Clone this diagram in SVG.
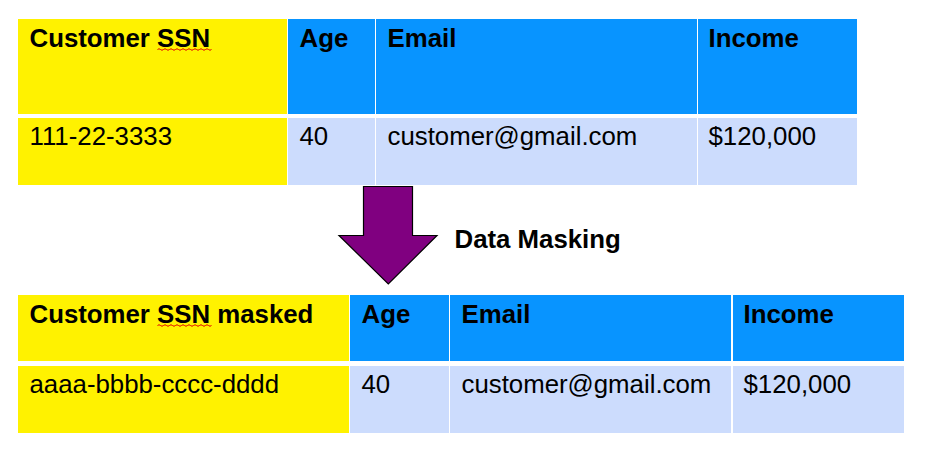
<svg xmlns="http://www.w3.org/2000/svg" width="936" height="463" viewBox="0 0 936 463">
<style>
.y{fill:#fff200}
.b{fill:#0894ff}
.l{fill:#ccdcfd}
.h{font-family:"Liberation Sans",Arial,sans-serif;font-size:25.8px;font-weight:bold;fill:#000}
.d{font-family:"Liberation Sans",Arial,sans-serif;font-size:25.8px;fill:#000}
.sq{fill:none;stroke:#e00000;stroke-width:1}
</style>
<rect width="936" height="463" fill="#fff"/>
<g id="table-original">
<rect class="y" x="18" y="19" width="269" height="95"/>
<rect class="b" x="288" y="19" width="87" height="95"/>
<rect class="b" x="376" y="19" width="321" height="95"/>
<rect class="b" x="698" y="19" width="159" height="95"/>
<rect class="y" x="18" y="118" width="269" height="67"/>
<rect class="l" x="288" y="118" width="87" height="67"/>
<rect class="l" x="376" y="118" width="321" height="67"/>
<rect class="l" x="698" y="118" width="159" height="67"/>
<text class="h" x="29.5" y="46.5">Customer SSN</text>
<text class="h" x="299.5" y="46.5">Age</text>
<text class="h" x="387.5" y="46.5">Email</text>
<text class="h" x="708.5" y="46.5">Income</text>
<text class="d" x="29.5" y="145">111-22-3333</text>
<text class="d" x="299.5" y="145">40</text>
<text class="d" x="387.5" y="145">customer@gmail.com</text>
<text class="d" x="708.5" y="145">$120,000</text>
<path class="sq" d="M157.5 49.5 q1.5 -1.5 3 0 t3 0 t3 0 t3 0 t3 0 t3 0 t3 0 t3 0 t3 0 t3 0 t3 0 t3 0 t3 0 t3 0 t3 0 t3 0 t3 0 t3 0"/>
</g>
<g id="table-masked">
<rect class="y" x="18" y="295" width="331" height="66"/>
<rect class="b" x="350" y="295" width="99" height="66"/>
<rect class="b" x="450" y="295" width="281" height="66"/>
<rect class="b" x="733" y="295" width="171" height="66"/>
<rect class="y" x="18" y="366" width="331" height="67"/>
<rect class="l" x="350" y="366" width="99" height="67"/>
<rect class="l" x="450" y="366" width="281" height="67"/>
<rect class="l" x="733" y="366" width="171" height="67"/>
<text class="h" x="29.5" y="322.5">Customer SSN masked</text>
<text class="h" x="361.5" y="322.5">Age</text>
<text class="h" x="461.5" y="322.5">Email</text>
<text class="h" x="743.5" y="322.5">Income</text>
<text class="d" x="29.5" y="392.5">aaaa-bbbb-cccc-dddd</text>
<text class="d" x="361.5" y="392.5">40</text>
<text class="d" x="461.5" y="392.5">customer@gmail.com</text>
<text class="d" x="743.5" y="392.5">$120,000</text>
<path class="sq" d="M157.5 325.5 q1.5 -1.5 3 0 t3 0 t3 0 t3 0 t3 0 t3 0 t3 0 t3 0 t3 0 t3 0 t3 0 t3 0 t3 0 t3 0 t3 0 t3 0 t3 0 t3 0"/>
</g>
<g id="connectors">
<path d="M363.5 186.5 H412.5 V235.5 H437 L388.3 284 L339 235.5 H363.5 Z" fill="#800080" stroke="#000" stroke-width="1.2" stroke-linejoin="miter"/>
<text class="h" x="454.5" y="247.5">Data Masking</text>
</g>
</svg>
